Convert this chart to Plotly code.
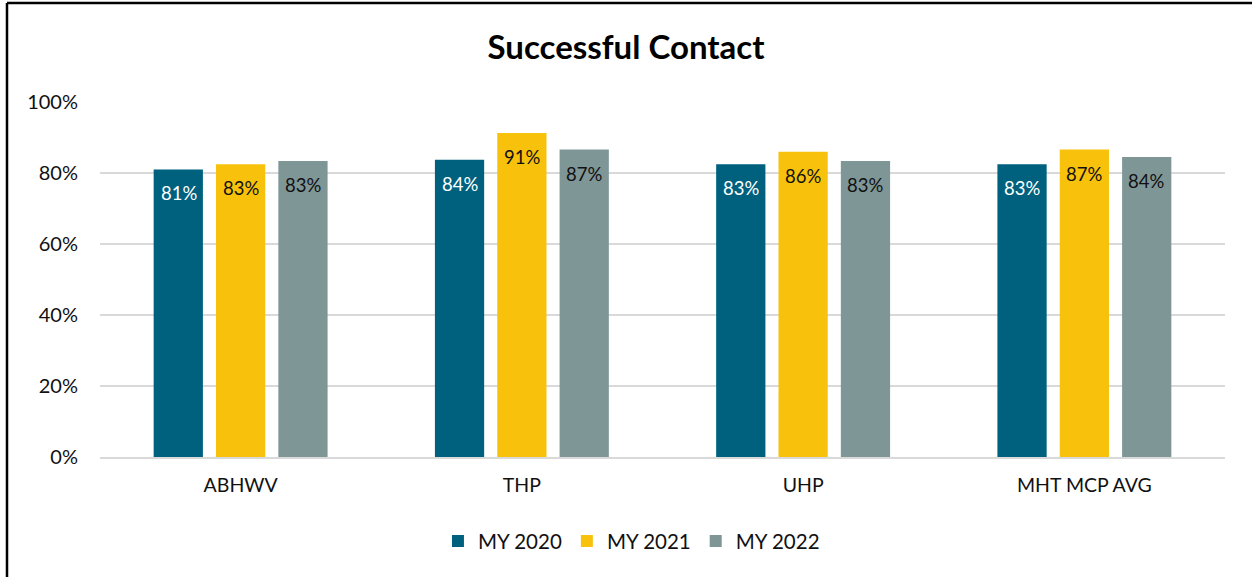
import plotly.graph_objects as go

categories = ["ABHWV", "THP", "UHP", "MHT MCP AVG"]
series_names = ["MY 2020", "MY 2021", "MY 2022"]
my2020 = [0.81, 0.837, 0.825, 0.825]
my2021 = [0.825, 0.913, 0.86, 0.866]
my2022 = [0.834, 0.866, 0.834, 0.845]
labels2020 = ["81%", "84%", "83%", "83%"]
labels2021 = ["83%", "91%", "86%", "87%"]
labels2022 = ["83%", "87%", "83%", "84%"]

colors = ["#00617f", "#f8c20c", "#7f9697"]
text_colors = ["white", "#111111", "#111111"]
FONT = "Lato, Carlito, 'Open Sans', sans-serif"

fig = go.Figure()
all_vals = [my2020, my2021, my2022]
all_labels = [labels2020, labels2021, labels2022]
for name, vals, col in zip(series_names, all_vals, colors):
    fig.add_trace(go.Bar(x=categories, y=vals, name=name, marker_color=col,
                         marker_line_width=0, hoverinfo="skip"))

shifts = [-62, 0, 62]
for vals, labs, tc, sh in zip(all_vals, all_labels, text_colors, shifts):
    for c, v, t in zip(categories, vals, labs):
        fig.add_annotation(x=c, y=v, text=t, showarrow=False, xshift=sh, yshift=-24,
                           font=dict(size=18.5, color=tc, family=FONT))

fig.update_layout(
    width=1252, height=577,
    paper_bgcolor="white", plot_bgcolor="white",
    margin=dict(l=100, r=27, t=102, b=120),
    title=dict(text="<b>Successful Contact</b>", x=0.5, xanchor="center",
               y=1 - 47 / 577, yanchor="middle",
               font=dict(size=33, color="black", family=FONT)),
    barmode="group", bargap=0.335, bargroupgap=0.21,
    font=dict(family=FONT, size=19, color="#111111"),
    showlegend=True,
    legend=dict(orientation="h", x=0.4724, xanchor="center", y=-0.237, yanchor="middle",
                font=dict(size=20.5, color="#111111", family=FONT),
                itemwidth=30, traceorder="normal"),
    xaxis=dict(showgrid=False, showline=True, linecolor="#d9d9d9", linewidth=2,
               ticks="", tickfont=dict(size=19.5), ticklabelstandoff=10),
    yaxis=dict(range=[0, 1], dtick=0.2, tickformat=".0%", showgrid=True,
               gridcolor="#d9d9d9", gridwidth=2, zeroline=False, showline=False,
               ticks="", tickfont=dict(size=20), ticklabelstandoff=21),
)

# outer frame (left and top edges visible)
fig.add_shape(type="line", xref="paper", yref="paper",
              x0=-93 / 1125, x1=-93 / 1125, y0=(457 - 3) / 355, y1=(457 - 600) / 355,
              line=dict(color="black", width=2.5))
fig.add_shape(type="line", xref="paper", yref="paper",
              x0=-93 / 1125, x1=(1260 - 100) / 1125, y0=(457 - 3) / 355, y1=(457 - 3) / 355,
              line=dict(color="black", width=2.5))

fig.write_html("out.html", config={"displayModeBar": False},
               post_script="document.body.style.margin='0';")
